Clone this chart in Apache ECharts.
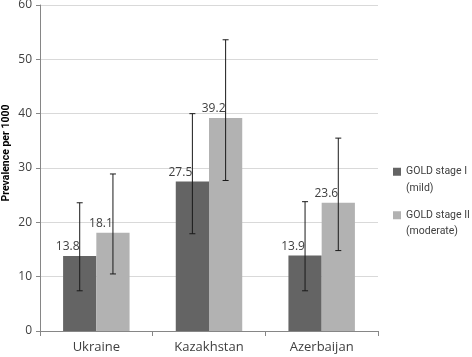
<!DOCTYPE html>
<html>
<head>
<meta charset="utf-8">
<script src="https://cdn.jsdelivr.net/npm/echarts@6/dist/echarts.min.js"></script>
<style>
  html, body { margin: 0; padding: 0; background: #fff; }
  #chart { width: 472px; height: 357px; }
</style>
</head>
<body>
<div id="chart"></div>
<script>
const countries = ["Ukraine", "Kazakhstan", "Azerbaijan"]
const mildName = "GOLD stage I\n(mild)"
const moderateName = "GOLD stage II\n(moderate)"
const yTitle = "Prevalence per 1000"

// prevalence per 1000
const mildValues = [13.8, 27.5, 13.9]
const moderateValues = [18.1, 39.2, 23.6]

// 95% CI
const mildLow = [7.4, 17.9, 7.4]
const mildHigh = [23.6, 40.0, 23.8]
const moderateLow = [10.5, 27.7, 14.8]
const moderateHigh = [28.9, 53.6, 35.5]

const yTicks = [0, 10, 20, 30, 40, 50, 60]

const catGap = 0.41 // barCategoryGap

function errorData(low, high) {
  return countries.map((c, i) => [i, low[i], high[i]])
}

// error bar for one bar in a group of two, side = -1 left / +1 right
function errorBar(side) {
  return function (params, api) {
    const cat = api.value(0)
    const bandW = api.size([1, 0])[0]
    const barW = (bandW * (1 - catGap)) / 2
    const lo = api.coord([cat, api.value(1)])
    const hi = api.coord([cat, api.value(2)])
    const x = lo[0] + (side * barW) / 2
    const cap = 3
    const style = { stroke: "#1a1a1a", lineWidth: 1 }
    return {
      type: "group",
      children: [
        { type: "line", shape: { x1: x, y1: hi[1], x2: x, y2: lo[1] }, style },
        { type: "line", shape: { x1: x - cap, y1: hi[1], x2: x + cap, y2: hi[1] }, style },
        { type: "line", shape: { x1: x - cap, y1: lo[1], x2: x + cap, y2: lo[1] }, style }
      ]
    }
  }
}

const chart = echarts.init(document.getElementById("chart"), null, { renderer: "canvas" })

const labelStyle = {
  show: true,
  position: "top",
  offset: [-12, 0],
  distance: 3,
  color: "#404040",
  fontSize: 12,
  fontFamily: "Open Sans"
}

chart.setOption({
  animation: false,
  textStyle: { fontFamily: "Open Sans" },
  grid: { left: 40, right: 94, top: 5, bottom: 26, outerBoundsMode: "none", containLabel: false },
  // y title drawn by hand so it can sit at the far left like the original
  graphic: [
    {
      type: "text",
      x: 6,
      y: 153,
      rotation: Math.PI / 2,
      style: {
        text: yTitle,
        fill: "#000",
        font: "bold 10.5px Roboto",
        textAlign: "center",
        textVerticalAlign: "middle"
      }
    }
  ],
  legend: {
    data: [mildName, moderateName],
    orient: "vertical",
    left: 388,
    top: 142,
    itemWidth: 8,
    itemHeight: 8,
    itemGap: -6,
    icon: "rect",
    // blank first line so the swatch lines up with the first text line
    formatter: (name) => "\n" + name,
    textStyle: {
      color: "#404040",
      fontSize: 10.5,
      fontFamily: "Roboto",
      lineHeight: 16.5
    }
  },
  xAxis: {
    type: "category",
    data: countries,
    axisLine: { lineStyle: { color: "#868686" } },
    axisTick: { show: true, length: 5, lineStyle: { color: "#868686" } },
    axisLabel: { color: "#404040", fontSize: 13, margin: 10 }
  },
  yAxis: {
    type: "value",
    min: yTicks[0],
    max: yTicks[yTicks.length - 1],
    interval: 10,
    axisLine: { show: true, lineStyle: { color: "#868686" } },
    axisTick: { show: true, length: 4, lineStyle: { color: "#868686" } },
    axisLabel: { color: "#404040", fontSize: 12, margin: 8 },
    splitLine: { lineStyle: { color: "#d9d9d9" } }
  },
  series: [
    {
      name: mildName,
      type: "bar",
      data: mildValues,
      barGap: "0%",
      barCategoryGap: catGap * 100 + "%",
      itemStyle: { color: "#646464" },
      label: labelStyle
    },
    {
      name: moderateName,
      type: "bar",
      data: moderateValues,
      itemStyle: { color: "#b2b2b2" },
      label: labelStyle
    },
    {
      type: "custom",
      data: errorData(mildLow, mildHigh),
      renderItem: errorBar(-1),
      encode: { x: 0, y: [1, 2] },
      z: 10
    },
    {
      type: "custom",
      data: errorData(moderateLow, moderateHigh),
      renderItem: errorBar(1),
      encode: { x: 0, y: [1, 2] },
      z: 10
    }
  ]
})
</script>
</body>
</html>
